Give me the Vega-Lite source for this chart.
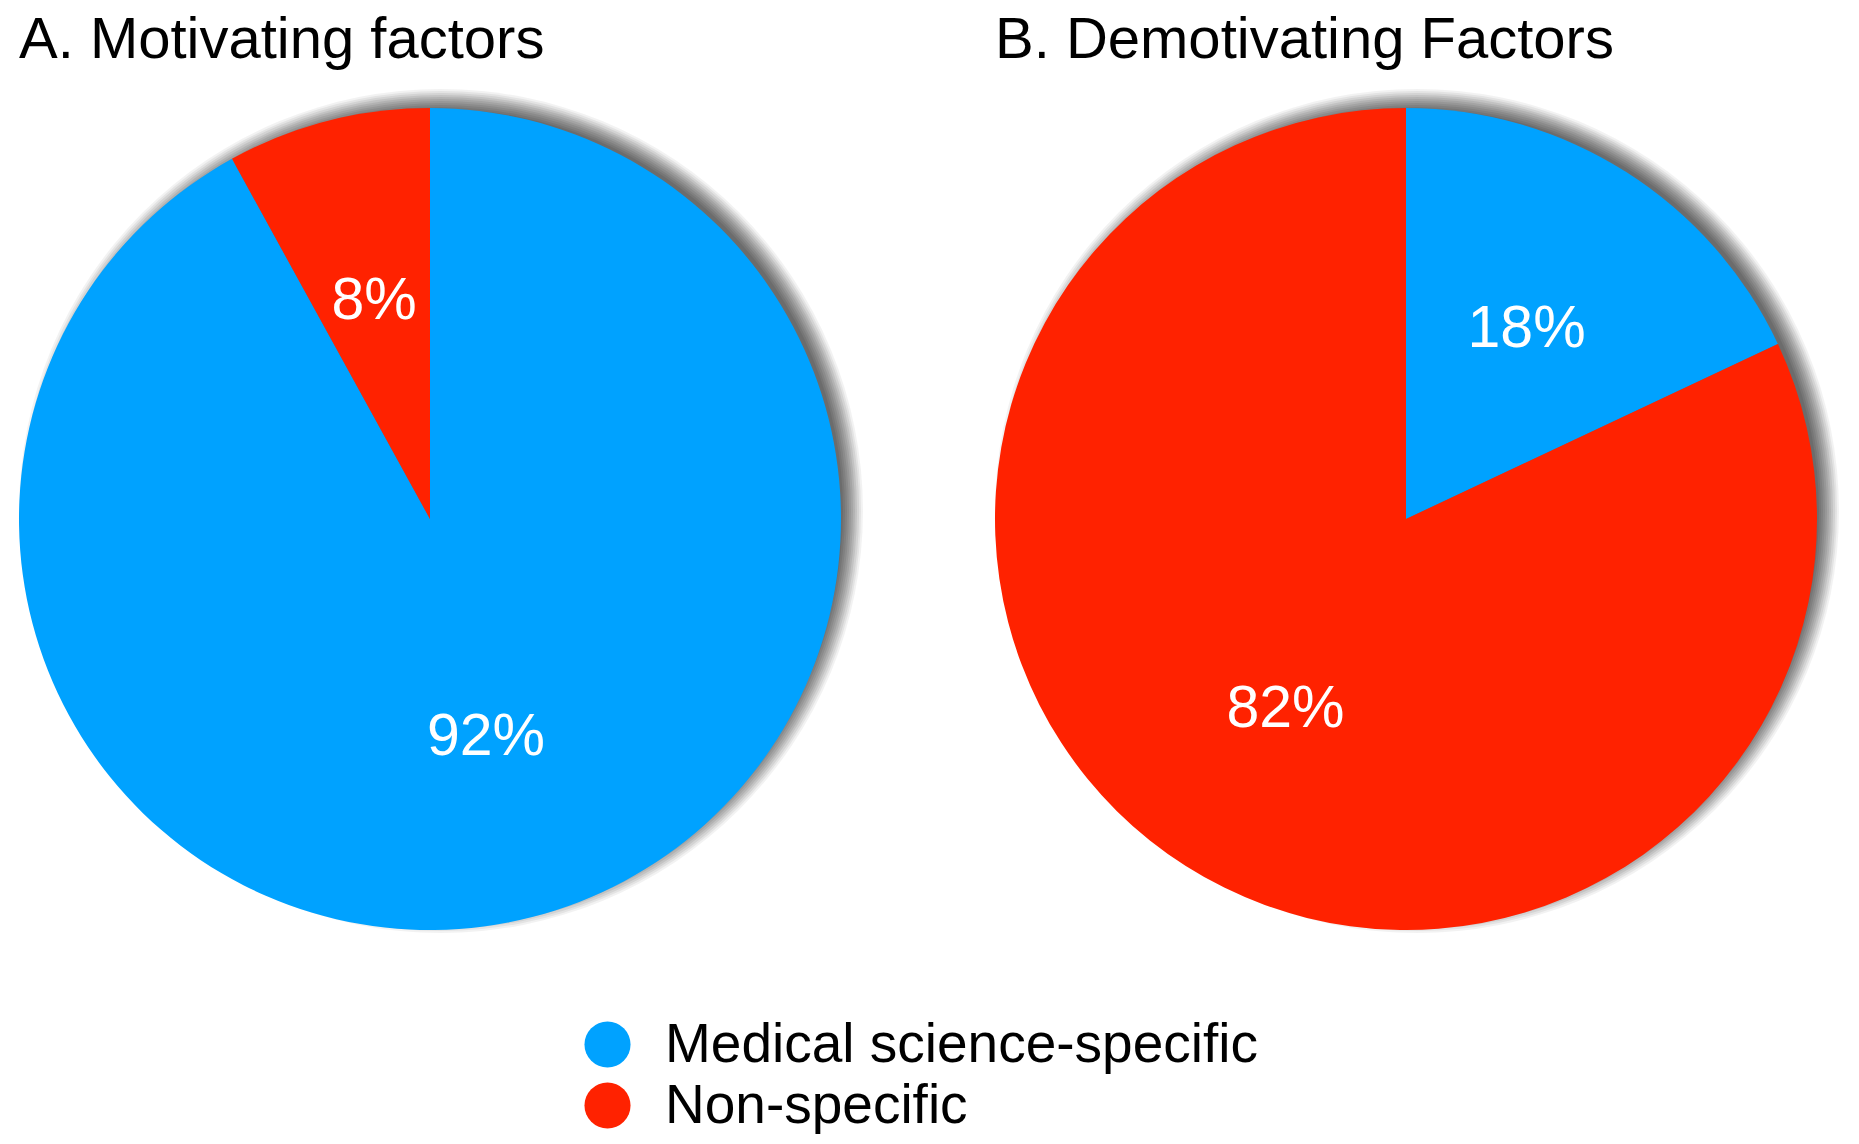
{
  "$schema": "https://vega.github.io/schema/vega-lite/v6.json",
  "background": "white",
  "padding": {"left": 19, "top": 12, "right": 0, "bottom": 0},
  "autosize": {"type": "pad"},
  "bounds": "flush",
  "spacing": 154,
  "config": {
    "view": {"stroke": null},
    "font": "Liberation Sans",
    "title": {"anchor": "start", "fontSize": 58, "fontWeight": "normal", "font": "Liberation Sans", "color": "black", "baseline": "alphabetic", "offset": 19, "frame": "group"},
    "legend": {
      "orient": "none", "legendX": 561, "legendY": 909, "direction": "vertical",
      "symbolType": "circle", "symbolSize": 2124, "symbolStrokeWidth": 0,
      "labelFontSize": 55, "labelFont": "Liberation Sans", "labelColor": "black",
      "labelOffset": 30, "rowPadding": 5, "labelLimit": 0, "padding": 0
    }
  },
  "datasets": {
    "pies": [
      {"panel": "A", "category": "Medical science-specific", "value": 92, "label": "92%"},
      {"panel": "A", "category": "Non-specific", "value": 8, "label": "8%"},
      {"panel": "B", "category": "Medical science-specific", "value": 18, "label": "18%"},
      {"panel": "B", "category": "Non-specific", "value": 82, "label": "82%"}
    ],
    "shadow": [{"s": 1}]
  },
  "hconcat": [
    {
      "width": 822, "height": 822,
      "title": {"text": "A. Motivating factors"},
      "layer": [
        {"data": {"name": "shadow"}, "mark": {"type": "arc", "radius": 422, "theta": 0, "theta2": 6.2832, "color": "black", "opacity": 0.05, "xOffset": 11, "yOffset": -8}, "encoding": {}},
        {"data": {"name": "shadow"}, "mark": {"type": "arc", "radius": 420, "theta": 0, "theta2": 6.2832, "color": "black", "opacity": 0.06, "xOffset": 11, "yOffset": -8}, "encoding": {}},
        {"data": {"name": "shadow"}, "mark": {"type": "arc", "radius": 418, "theta": 0, "theta2": 6.2832, "color": "black", "opacity": 0.07, "xOffset": 11, "yOffset": -8}, "encoding": {}},
        {"data": {"name": "shadow"}, "mark": {"type": "arc", "radius": 416, "theta": 0, "theta2": 6.2832, "color": "black", "opacity": 0.08, "xOffset": 11, "yOffset": -8}, "encoding": {}},
        {"data": {"name": "shadow"}, "mark": {"type": "arc", "radius": 414, "theta": 0, "theta2": 6.2832, "color": "black", "opacity": 0.08, "xOffset": 11, "yOffset": -8}, "encoding": {}},
        {"data": {"name": "shadow"}, "mark": {"type": "arc", "radius": 412, "theta": 0, "theta2": 6.2832, "color": "black", "opacity": 0.08, "xOffset": 11, "yOffset": -8}, "encoding": {}},
        {"data": {"name": "shadow"}, "mark": {"type": "arc", "radius": 410, "theta": 0, "theta2": 6.2832, "color": "black", "opacity": 0.08, "xOffset": 11, "yOffset": -8}, "encoding": {}},
        {"data": {"name": "shadow"}, "mark": {"type": "arc", "radius": 408, "theta": 0, "theta2": 6.2832, "color": "black", "opacity": 0.08, "xOffset": 11, "yOffset": -8}, "encoding": {}},
        {"data": {"name": "shadow"}, "mark": {"type": "arc", "radius": 406, "theta": 0, "theta2": 6.2832, "color": "black", "opacity": 0.08, "xOffset": 11, "yOffset": -8}, "encoding": {}},
        {"data": {"name": "shadow"}, "mark": {"type": "arc", "radius": 404, "theta": 0, "theta2": 6.2832, "color": "black", "opacity": 0.08, "xOffset": 11, "yOffset": -8}, "encoding": {}},
        {"data": {"name": "shadow"}, "mark": {"type": "arc", "radius": 402, "theta": 0, "theta2": 6.2832, "color": "black", "opacity": 0.08, "xOffset": 11, "yOffset": -8}, "encoding": {}},
        {
          "data": {"name": "pies"},
          "transform": [{"filter": "datum.panel === 'A'"}],
          "mark": {"type": "arc", "radius": 411},
          "encoding": {
            "theta": {"field": "value", "type": "quantitative", "stack": true},
            "order": {"field": "category", "type": "nominal"},
            "color": {"field": "category", "type": "nominal", "scale": {"domain": ["Medical science-specific", "Non-specific"], "range": ["#00A2FF", "#FF2200"]}, "legend": {"title": null}}
          }
        },
        {
          "data": {"name": "pies"},
          "transform": [{"filter": "datum.panel === 'A'"}],
          "mark": {"type": "text", "radius": 225, "fontSize": 59, "color": "white", "font": "Liberation Sans"},
          "encoding": {
            "theta": {"field": "value", "type": "quantitative", "stack": true},
            "order": {"field": "category", "type": "nominal"},
            "text": {"field": "label", "type": "nominal"}
          }
        }
      ]
    },
    {
      "width": 822, "height": 822,
      "title": {"text": "B. Demotivating Factors"},
      "layer": [
        {"data": {"name": "shadow"}, "mark": {"type": "arc", "radius": 422, "theta": 0, "theta2": 6.2832, "color": "black", "opacity": 0.05, "xOffset": 11, "yOffset": -8}, "encoding": {}},
        {"data": {"name": "shadow"}, "mark": {"type": "arc", "radius": 420, "theta": 0, "theta2": 6.2832, "color": "black", "opacity": 0.06, "xOffset": 11, "yOffset": -8}, "encoding": {}},
        {"data": {"name": "shadow"}, "mark": {"type": "arc", "radius": 418, "theta": 0, "theta2": 6.2832, "color": "black", "opacity": 0.07, "xOffset": 11, "yOffset": -8}, "encoding": {}},
        {"data": {"name": "shadow"}, "mark": {"type": "arc", "radius": 416, "theta": 0, "theta2": 6.2832, "color": "black", "opacity": 0.08, "xOffset": 11, "yOffset": -8}, "encoding": {}},
        {"data": {"name": "shadow"}, "mark": {"type": "arc", "radius": 414, "theta": 0, "theta2": 6.2832, "color": "black", "opacity": 0.08, "xOffset": 11, "yOffset": -8}, "encoding": {}},
        {"data": {"name": "shadow"}, "mark": {"type": "arc", "radius": 412, "theta": 0, "theta2": 6.2832, "color": "black", "opacity": 0.08, "xOffset": 11, "yOffset": -8}, "encoding": {}},
        {"data": {"name": "shadow"}, "mark": {"type": "arc", "radius": 410, "theta": 0, "theta2": 6.2832, "color": "black", "opacity": 0.08, "xOffset": 11, "yOffset": -8}, "encoding": {}},
        {"data": {"name": "shadow"}, "mark": {"type": "arc", "radius": 408, "theta": 0, "theta2": 6.2832, "color": "black", "opacity": 0.08, "xOffset": 11, "yOffset": -8}, "encoding": {}},
        {"data": {"name": "shadow"}, "mark": {"type": "arc", "radius": 406, "theta": 0, "theta2": 6.2832, "color": "black", "opacity": 0.08, "xOffset": 11, "yOffset": -8}, "encoding": {}},
        {"data": {"name": "shadow"}, "mark": {"type": "arc", "radius": 404, "theta": 0, "theta2": 6.2832, "color": "black", "opacity": 0.08, "xOffset": 11, "yOffset": -8}, "encoding": {}},
        {"data": {"name": "shadow"}, "mark": {"type": "arc", "radius": 402, "theta": 0, "theta2": 6.2832, "color": "black", "opacity": 0.08, "xOffset": 11, "yOffset": -8}, "encoding": {}},
        {
          "data": {"name": "pies"},
          "transform": [{"filter": "datum.panel === 'B'"}],
          "mark": {"type": "arc", "radius": 411},
          "encoding": {
            "theta": {"field": "value", "type": "quantitative", "stack": true},
            "order": {"field": "category", "type": "nominal"},
            "color": {"field": "category", "type": "nominal", "scale": {"domain": ["Medical science-specific", "Non-specific"], "range": ["#00A2FF", "#FF2200"]}, "legend": {"title": null}}
          }
        },
        {
          "data": {"name": "pies"},
          "transform": [{"filter": "datum.panel === 'B'"}],
          "mark": {"type": "text", "radius": 225, "fontSize": 59, "color": "white", "font": "Liberation Sans"},
          "encoding": {
            "theta": {"field": "value", "type": "quantitative", "stack": true},
            "order": {"field": "category", "type": "nominal"},
            "text": {"field": "label", "type": "nominal"}
          }
        }
      ]
    }
  ]
}
